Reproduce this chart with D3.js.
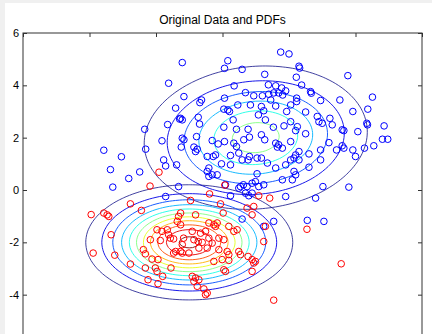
<!DOCTYPE html>
<html>
<head>
<meta charset="utf-8">
<script src="https://cdn.jsdelivr.net/npm/d3@7"></script>
<style>
  html, body { margin: 0; padding: 0; background: #fff; }
  svg { display: block; }
</style>
</head>
<body>
<div id="chart"></div>
<script>
// points (first cluster, blue)
const blueX = [-1.21,-1.62,-1.41,-1.29,-1.65,-2.34,-1.82,-2.31,-3.57,-3.04,-1.77,-1.71,-1.38,-3.37,-2.49,-2.82,-3.30,
  0.16,0.06,0.59,1.75,2.00,1.27,0.35,1.38,1.60,1.78,1.90,1.69,1.54,1.81,0.69,0.94,1.20,1.39,-1.16,-0.63,-0.68,0.06,0.46,
  0.04,0.16,0.21,1.17,1.24,1.60,1.93,-1.26,-1.21,-0.73,-0.69,0.32,1.29,1.85,0.04,0.42,0.77,1.53,1.17,1.27,0.81,0.64,
  -1.21,-1.16,-1.24,-0.78,-0.31,-0.13,0.06,1.60,1.65,1.69,1.80,-0.86,-0.81,-0.76,0.42,0.49,-0.46,-0.28,-0.21,0.24,0.81,
  1.04,1.17,0.59,0.77,-0.03,-0.41,-0.46,0.24,1.35,1.60,1.90,2.05,-0.41,-0.31,-0.16,1.04,0.54,0.74,0.89,0.99,1.09,1.80,
  2.10,-1.32,2.30,2.32,2.22,3.77,2.38,2.65,2.67,2.95,3.53,4.51,2.23,2.23,3.92,4.37,2.85,3.23,2.90,3.00,3.30,4.34,4.36,
  4.86,3.60,3.65,4.07,2.50,2.05,2.20,2.25,4.81,4.97,4.55,3.20,3.60,3.65,3.92,4.00,4.27,3.43,2.95,2.60,2.30,2.20,2.15,
  2.30,2.95,2.60,2.15,2.20,3.02,3.80,2.80,2.55,3.05,-1.71,0.09,0.49,0.63,0.24,0.69,0.79,0.89,1.24,1.90,0.59,1.24,1.54,
  0.34,2.05,1.08,0.84,2.05,1.45,2.50];
const blueY = [4.87,4.08,3.13,2.71,2.50,2.32,1.88,1.56,1.52,1.27,1.15,0.92,0.96,0.78,0.69,0.44,0.11,
  4.94,4.65,4.61,5.27,5.20,4.42,3.98,4.02,3.98,3.90,3.79,3.71,3.71,3.63,3.72,3.60,3.60,3.66,3.57,3.44,3.34,3.51,3.25,
  3.09,3.06,3.00,3.19,3.03,3.21,3.00,2.74,2.68,2.78,2.52,2.68,2.68,2.45,2.40,2.32,2.32,2.40,2.11,1.92,2.02,1.92,
  1.98,1.92,1.64,2.04,1.89,1.76,1.85,1.79,1.64,1.73,1.60,1.64,1.47,1.56,1.66,1.41,1.28,1.28,1.34,1.32,1.28,
  1.22,1.22,1.15,1.15,1.00,0.84,0.71,0.96,1.03,0.84,0.96,1.15,0.52,0.58,0.58,0.62,0.13,0.13,0.26,0.32,0.13,0.39,
  0.39,0.13,4.73,4.66,4.31,4.37,4.01,3.76,3.70,3.42,3.44,3.55,3.51,3.38,3.00,3.09,2.81,2.74,2.61,2.55,2.49,2.55,2.49,
  2.45,2.30,2.27,2.23,2.15,2.61,2.27,2.42,1.94,1.94,1.69,1.81,1.69,1.60,1.53,1.28,1.60,1.53,1.53,1.38,1.47,1.34,1.22,
  1.15,1.15,0.87,0.71,0.58,0.13,0.11,-0.31,-1.16,-1.20,-0.25,0.20,0.07,0.20,-0.22,-0.12,-0.22,-0.12,0.20,-0.25,-1.11,-1.39,-1.20,
  1.79,1.85,2.87,3.25,3.25,3.44,2.98];

// second cluster, red
const redX = [-1.91,-2.18,-2.77,-2.44,-3.95,-3.57,-3.47,-3.42,-3.35,-3.89,-3.24,-2.77,-2.38,-2.32,-2.12,-1.94,-2.32,
  -2.02,-1.97,-1.80,-2.24,-1.94,-1.55,-1.97,-1.82,-1.66,-1.62,-1.87,-1.47,-1.32,-1.36,-1.41,-1.47,-1.21,0.07,-0.39,
  -0.96,1.09,1.42,-0.06,0.02,0.74,0.94,0.89,-1.26,-1.26,-0.81,-0.41,-0.21,-0.16,0.19,0.44,-0.91,-0.66,-0.51,-1.17,
  -0.86,-0.73,-0.61,-0.41,-0.31,-0.11,0.04,-1.21,-1.26,-0.71,-0.46,-0.11,1.24,-1.01,0.14,0.19,0.49,0.77,0.89,0.99,
  0.94,-0.26,-0.01,0.19,0.04,0.09,0.89,-0.91,-0.81,-0.71,-0.86,-0.76,-0.56,-0.51,-0.46,1.54,2.54,3.57,1.29,-2.17,
  -0.26,0.34,0.54,-1.57];
const redY = [0.68,0.15,-0.53,-0.78,-0.94,-0.88,-0.95,-1.01,-1.71,-2.41,-2.49,-2.83,-2.28,-2.44,-2.64,-2.66,-2.98,
  -2.98,-3.11,-3.30,-3.43,-3.58,-2.98,-1.52,-1.58,-1.52,-1.71,-1.93,-1.87,-1.01,-1.20,-2.35,-2.41,-2.41,0.19,-0.15,
  -0.40,-0.22,-0.31,-0.53,-0.88,-0.69,-0.63,-0.95,-0.88,-1.33,-0.95,-1.26,-1.39,-1.26,-1.39,-1.52,-1.58,-1.65,-1.58,-1.84,
  -1.90,-1.97,-2.00,-1.84,-2.03,-1.84,-1.90,-2.09,-2.35,-2.22,-2.22,-2.28,-1.97,-2.41,-2.35,-2.47,-2.35,-2.54,-2.66,-2.73,
  -2.79,-2.73,-2.66,-2.69,-3.05,-3.11,-3.11,-3.30,-3.36,-3.43,-3.49,-3.68,-3.78,-4.00,-3.94,-4.21,-1.50,-2.82,-1.39,-1.90,
  -1.33,-1.58,-2.47,-1.84];

// the two normal PDFs that are drawn as contours
const blueMu = [1, 2];
const blueSigma = [[3, 0.2], [0.2, 2]];
const redMu = [-1, -2];
const redSigma = [[2, 0], [0, 1]];
const levels = [0.01, 0.02, 0.03, 0.04, 0.05, 0.06, 0.07, 0.08, 0.09, 0.10, 0.11];

const xTicks = [-6, -4, -2, 0, 2, 4, 6];
const yTicks = [-4, -2, 0, 2, 4, 6];
const title = "Original Data and PDFs";

const W = 432, H = 334;
const margin = {left: 23, right: 10, top: 33};
const plotBottom = 347;

const x = d3.scaleLinear().domain([-6, 6]).range([margin.left, W - margin.right]);
const y = d3.scaleLinear().domain([-6, 6]).range([plotBottom, margin.top]);

// jet colormap, like matlab
function jet(t) {
  const c = v => Math.round(255 * Math.max(0, Math.min(1, v)));
  return d3.rgb(c(1.5 - Math.abs(4 * t - 3)), c(1.5 - Math.abs(4 * t - 2)), c(1.5 - Math.abs(4 * t - 1))).formatHex();
}
const colorT = d3.scaleLinear().domain(d3.extent(levels)).range([0, 1]);

function gauss(mu, S) {
  const det = S[0][0] * S[1][1] - S[0][1] * S[1][0];
  const a = S[1][1] / det, b = -S[0][1] / det, d = S[0][0] / det;
  const k = 1 / (2 * Math.PI * Math.sqrt(det));
  return (px, py) => {
    const dx = px - mu[0], dy = py - mu[1];
    return k * Math.exp(-0.5 * (a * dx * dx + 2 * b * dx * dy + d * dy * dy));
  };
}

const svg = d3.select("#chart").append("svg")
  .attr("width", W).attr("height", H);

// grey window edge, white figure
svg.append("rect").attr("width", W).attr("height", H).attr("fill", "#f0f0f0");
svg.append("rect").attr("x", 5).attr("y", 3).attr("width", W - 5).attr("height", H - 3).attr("fill", "#fff");

const defs = svg.append("defs");
defs.append("clipPath").attr("id", "clip")
  .append("rect")
  .attr("x", x(-6)).attr("y", y(6))
  .attr("width", x(6) - x(-6)).attr("height", y(-6) - y(6));

// contours
const step = 0.1, g0 = -6;
const n = Math.round(12 / step) + 1;
const proj = d3.geoTransform({
  point: function(gx, gy) {
    this.stream.point(x(g0 + (gx - 0.5) * step), y(g0 + (gy - 0.5) * step));
  }
});
const path = d3.geoPath(proj);

const plot = svg.append("g").attr("clip-path", "url(#clip)");

[[blueMu, blueSigma], [redMu, redSigma]].forEach(([mu, S]) => {
  const f = gauss(mu, S);
  const vals = new Array(n * n);
  for (let j = 0; j < n; j++)
    for (let i = 0; i < n; i++)
      vals[i + j * n] = f(g0 + i * step, g0 + j * step);
  const cs = d3.contours().size([n, n]).thresholds(levels)(vals);
  plot.append("g").selectAll("path")
    .data(cs.filter(c => c.coordinates.length > 0))
    .join("path")
    .attr("d", path)
    .attr("fill", "none")
    .attr("stroke", c => jet(colorT(c.value)))
    .attr("stroke-opacity", c => c.value < 0.015 ? 0.75 : 0.9)
    .attr("stroke-width", 1);
});

// scatter
const blue = blueX.map((v, i) => [v, blueY[i]]);
const red = redX.map((v, i) => [v, redY[i]]);
plot.append("g").selectAll("circle").data(blue).join("circle")
  .attr("cx", d => x(d[0])).attr("cy", d => y(d[1])).attr("r", 3.3)
  .attr("fill", "none").attr("stroke", "#0000ff").attr("stroke-width", 1);
plot.append("g").selectAll("circle").data(red).join("circle")
  .attr("cx", d => x(d[0])).attr("cy", d => y(d[1])).attr("r", 3.3)
  .attr("fill", "none").attr("stroke", "#ff0000").attr("stroke-width", 1);

// axes box with matlab-style inner ticks
const tl = 4;
svg.append("g").attr("transform", `translate(${x(-6)},0)`)
  .call(d3.axisRight(y).tickValues(yTicks).tickSize(tl).tickFormat(""))
  .call(g => g.select(".domain").remove());
svg.append("g").attr("transform", `translate(${x(6)},0)`)
  .call(d3.axisLeft(y).tickValues(yTicks).tickSize(tl).tickFormat(""))
  .call(g => g.select(".domain").remove());
svg.append("g").attr("transform", `translate(0,${y(6)})`)
  .call(d3.axisBottom(x).tickValues(xTicks).tickSize(tl).tickFormat(""))
  .call(g => g.select(".domain").remove());
svg.append("rect")
  .attr("x", x(-6)).attr("y", y(6))
  .attr("width", x(6) - x(-6)).attr("height", y(-6) - y(6))
  .attr("fill", "none").attr("stroke", "#333").attr("stroke-width", 1);
svg.selectAll(".tick line").attr("stroke", "#333");

// y tick labels
svg.append("g").selectAll("text").data(yTicks).join("text")
  .attr("x", x(-6) - 4).attr("y", d => y(d))
  .attr("dy", "0.35em")
  .attr("text-anchor", "end")
  .attr("font-family", "Liberation Sans, Arial, sans-serif")
  .attr("font-size", 11)
  .attr("fill", "#000")
  .text(d => d);

svg.append("text")
  .attr("x", (x(-6) + x(6)) / 2).attr("y", 24)
  .attr("text-anchor", "middle")
  .attr("font-family", "Liberation Sans, Arial, sans-serif")
  .attr("font-size", 12)
  .attr("fill", "#000")
  .text(title);
</script>
</body>
</html>
